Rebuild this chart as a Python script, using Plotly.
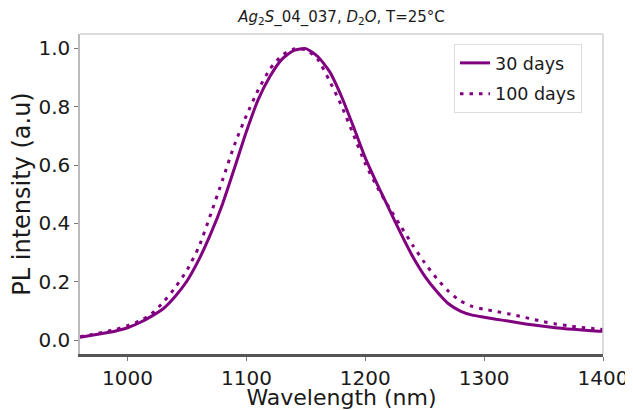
import plotly.graph_objects as go

wavelength = [960, 970, 980, 990, 1000, 1010, 1020, 1030, 1040, 1050,
              1060, 1070, 1080, 1090, 1100, 1110, 1120, 1130, 1140, 1150,
              1160, 1170, 1180, 1190, 1200, 1210, 1220, 1230, 1240, 1250,
              1260, 1270, 1280, 1290, 1300, 1310, 1320, 1330, 1340, 1350,
              1360, 1370, 1380, 1390, 1400]

pl_30_days = [0.010, 0.017, 0.024, 0.032, 0.043, 0.060, 0.082, 0.108, 0.150, 0.203,
              0.276, 0.365, 0.468, 0.590, 0.715, 0.825, 0.905, 0.963, 0.993, 0.999,
              0.972, 0.920, 0.835, 0.732, 0.625, 0.535, 0.450, 0.365, 0.286, 0.220,
              0.168, 0.125, 0.100, 0.086, 0.079, 0.072, 0.066, 0.059, 0.053, 0.048,
              0.043, 0.039, 0.036, 0.033, 0.031]

pl_100_days = [0.012, 0.020, 0.028, 0.037, 0.050, 0.066, 0.090, 0.130, 0.180, 0.240,
               0.320, 0.432, 0.550, 0.670, 0.770, 0.858, 0.930, 0.976, 0.998, 0.995,
               0.962, 0.888, 0.803, 0.705, 0.605, 0.525, 0.455, 0.390, 0.325, 0.265,
               0.212, 0.168, 0.135, 0.116, 0.106, 0.099, 0.091, 0.082, 0.073, 0.064,
               0.056, 0.050, 0.045, 0.041, 0.037]

series_names = ["30 days", "100 days"]
x_ticks = [1000, 1100, 1200, 1300, 1400]
y_ticks = [0.0, 0.2, 0.4, 0.6, 0.8, 1.0]

PURPLE = "#800080"
FONT = "DejaVu Sans"

fig = go.Figure()
fig.add_trace(go.Scatter(
    x=wavelength, y=pl_30_days, mode="lines", name=series_names[0],
    legendgroup="a",
    line=dict(color=PURPLE, width=3, shape="spline", smoothing=0.6),
))
fig.add_trace(go.Scatter(
    x=wavelength, y=pl_100_days, mode="lines", name=series_names[1],
    legendgroup="b",
    line=dict(color=PURPLE, width=3, shape="spline", smoothing=0.6, dash="3.5px,6px"),
))

# page body has an 8px margin, so the figure is sized to fit the window
fig.update_layout(
    width=625, height=402,
    margin=dict(l=72, r=30, t=26, b=56, autoexpand=False),
    paper_bgcolor="white", plot_bgcolor="white",
    font=dict(family=FONT, color="#1a1a1a"),
    title=dict(
        text="<i>Ag</i><sub>2</sub><i>S</i>_04_037, <i>D</i><sub>2</sub><i>O</i>, T=25°C",
        x=0.5, xref="paper", xanchor="center", yref="container", y=1 - 9 / 402, yanchor="middle",
        font=dict(size=15, family=FONT, color="#1a1a1a"),
    ),
    legend=dict(
        x=(454 - 80) / 523, y=(354 - 44) / 320, xanchor="left", yanchor="top",
        bgcolor="white", bordercolor="#dddddd", borderwidth=1,
        font=dict(size=17.5, family=FONT, color="#1a1a1a"),
        tracegroupgap=5, traceorder="grouped",
        entrywidth=97, entrywidthmode="pixels",
    ),
    showlegend=True,
)

fig.update_xaxes(
    range=[960, 1400], tickvals=x_ticks, ticktext=[str(v) for v in x_ticks],
    showgrid=False, zeroline=False, automargin=False,
    showline=True, linecolor="#555555", linewidth=2.5,
    ticks="outside", ticklen=4, tickcolor="#777777", tickwidth=1,
    tickfont=dict(size=20, family=FONT, color="#1a1a1a"),
    title=dict(text="Wavelength (nm)", font=dict(size=22, family=FONT, color="#1a1a1a"), standoff=3),
)
fig.update_yaxes(
    range=[-0.047, 1.049], tickvals=y_ticks, ticktext=[f"{v:.1f}" for v in y_ticks],
    showgrid=False, zeroline=False, automargin=False,
    showline=True, linecolor="#bbbbbb", linewidth=1.5,
    ticks="outside", ticklen=4, tickcolor="#777777", tickwidth=1,
    tickfont=dict(size=20, family=FONT, color="#1a1a1a"),
    title=dict(text="PL intensity (a.u)", font=dict(size=24, family=FONT, color="#1a1a1a"), standoff=4),
)

# light frame on top and right
fig.add_shape(type="line", xref="paper", yref="paper", x0=0, x1=1, y0=1, y1=1,
              line=dict(color="#d0d0d0", width=1.5), layer="above")
fig.add_shape(type="line", xref="paper", yref="paper", x0=1, x1=1, y0=0, y1=1,
              line=dict(color="#d0d0d0", width=1.5), layer="above")

fig.write_html("out.html")
